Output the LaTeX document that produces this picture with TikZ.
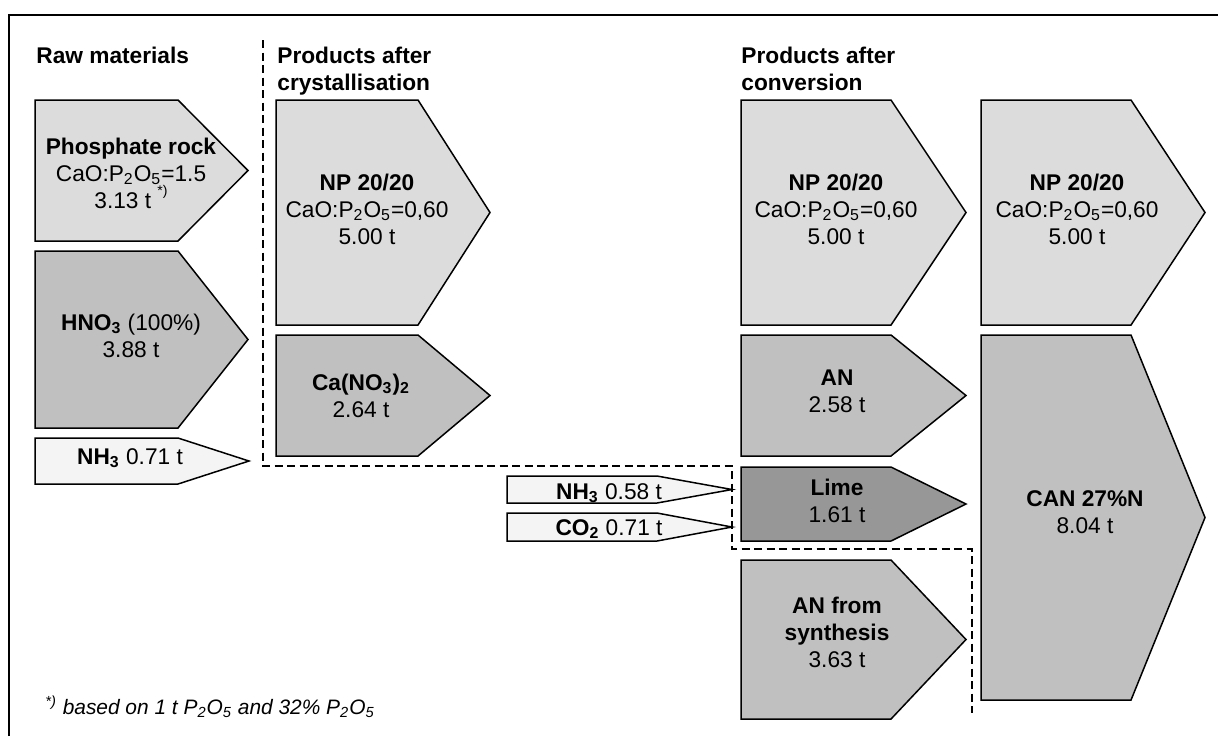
\documentclass[tikz,border=0pt]{standalone}
\usepackage{fontspec}
\setmainfont{Liberation Sans}

\definecolor{paleflow}{HTML}{F4F4F4}
\definecolor{lightflow}{HTML}{DCDCDC}
\definecolor{midflow}{HTML}{C0C0C0}
\definecolor{darkflow}{HTML}{979797}

% pentagon arrow: style, left, top, end of straight part, tip, bottom
\newcommand{\flowbox}[6]{%
  \draw[#1] (#2,#3) -- (#4,#3) -- (#5,{(#3+#6)/2}) -- (#4,#6) -- (#2,#6) -- cycle;}

\begin{document}
\begin{tikzpicture}[x=0.5pt, y=-0.5pt,
  font=\fontsize{11.35}{13.4}\selectfont,
  flow/.style={draw, line width=0.75pt},
  pale/.style={flow, fill=paleflow},
  light/.style={flow, fill=lightflow},
  mid/.style={flow, fill=midflow},
  dark/.style={flow, fill=darkflow},
  txt/.style={align=center, inner sep=0pt, anchor=base},
  head/.style={align=left, inner sep=0pt, anchor=base west, font=\fontsize{11.35}{13.4}\selectfont\bfseries},
  sep/.style={line width=0.65pt, dash pattern=on 4pt off 2.25pt}]
\useasboundingbox (0,0) rectangle (1218,736);

% frame
\draw[line width=1pt] (9,736) -- (9,15) -- (1218,15);

% column heads (base = last line)
\node[head] (raw) at (36,63) {Raw materials};
\node[head] (cryst) at (277,90) {Products after\\crystallisation};
\node[head] (conv) at (741,90) {Products after\\conversion};

% raw materials
\flowbox{light}{35}{100}{178}{248}{241}
\flowbox{mid}{35}{251}{178}{248}{428}
\flowbox{pale}{35}{438}{178}{249}{484}
\node[txt] (rock) at (131,208) {\textbf{Phosphate rock}\\CaO:P\textsubscript{2}O\textsubscript{5}=1.5\\3.13 t \raisebox{0.55em}{\scriptsize *)}};
\node[txt] (acid) at (131,357) {\textbf{HNO\textsubscript{3}} (100\%)\\3.88 t};
\node[txt] (ammonia) at (130,464) {\textbf{NH\textsubscript{3}} 0.71 t};

% after crystallisation
\flowbox{light}{276}{100}{418}{490}{325}
\flowbox{mid}{276}{335}{418}{490}{456}
\node[txt] (npcryst) at (367,244) {\textbf{NP 20/20}\\CaO:P\textsubscript{2}O\textsubscript{5}=0,60\\5.00 t};
\node[txt] (cano) at (361,417) {\textbf{Ca(NO\textsubscript{3})\textsubscript{2}}\\2.64 t};

% conversion inputs
\flowbox{pale}{507}{476}{657}{732}{503}
\flowbox{pale}{507}{513}{657}{732}{541}
\node[txt] (ammconv) at (609,499) {\textbf{NH\textsubscript{3}} 0.58 t};
\node[txt] (carbon) at (609,535) {\textbf{CO\textsubscript{2}} 0.71 t};

% after conversion
\flowbox{light}{741}{100}{891}{966}{325}
\flowbox{mid}{741}{335}{891}{966}{456}
\flowbox{dark}{741}{467}{891}{966}{541}
\flowbox{mid}{741}{560}{891}{966}{719}
\node[txt] (npconv) at (836,244) {\textbf{NP 20/20}\\CaO:P\textsubscript{2}O\textsubscript{5}=0,60\\5.00 t};
\node[txt] (an) at (837,412) {\textbf{AN}\\2.58 t};
\node[txt] (lime) at (837,522) {\textbf{Lime}\\1.61 t};
\node[txt] (ansyn) at (837,667) {\textbf{AN from}\\\textbf{synthesis}\\3.63 t};

% final products
\flowbox{light}{981}{100}{1131}{1205}{325}
\flowbox{mid}{981}{335}{1131}{1205}{700}
\node[txt] (npfinal) at (1077,244) {\textbf{NP 20/20}\\CaO:P\textsubscript{2}O\textsubscript{5}=0,60\\5.00 t};
\node[txt] (can) at (1085,533) {\textbf{CAN 27\%N}\\8.04 t};

% separators
\draw[sep] (263,40) -- (263,466) -- (732,466) -- (732,549) -- (972,549) -- (972,713);

% footnote
\node[anchor=base west, inner sep=0pt, font=\fontsize{10.45}{12}\selectfont\itshape] (note) at (45,714)
  {\textsuperscript{*)} based on 1 t P\textsubscript{2}O\textsubscript{5} and 32\% P\textsubscript{2}O\textsubscript{5}};
\end{tikzpicture}
\end{document}
